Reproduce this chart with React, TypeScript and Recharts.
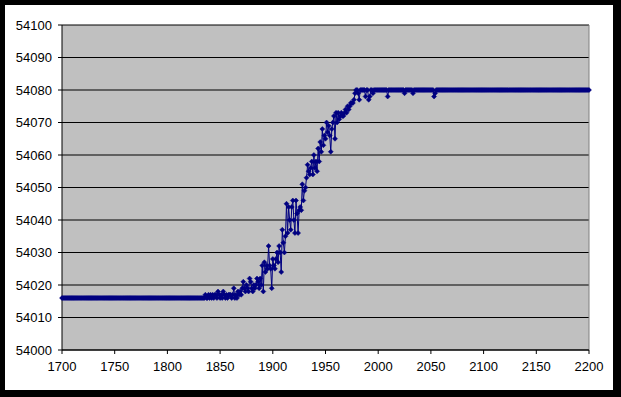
import { LineChart, Line, XAxis, YAxis, CartesianGrid, ReferenceLine } from "recharts";

const startYear = 1700;

const xTicks = [1700, 1750, 1800, 1850, 1900, 1950, 2000, 2050, 2100, 2150, 2200];
const yTicks = [54000, 54010, 54020, 54030, 54040, 54050, 54060, 54070, 54080, 54090, 54100];

// 1700 - 1834
const earlyValues = [
  54016, 54016, 54016, 54016, 54016, 54016, 54016, 54016, 54016, 54016, 54016, 54016, 54016, 54016, 54016,
  54016, 54016, 54016, 54016, 54016, 54016, 54016, 54016, 54016, 54016, 54016, 54016, 54016, 54016, 54016,
  54016, 54016, 54016, 54016, 54016, 54016, 54016, 54016, 54016, 54016, 54016, 54016, 54016, 54016, 54016,
  54016, 54016, 54016, 54016, 54016, 54016, 54016, 54016, 54016, 54016, 54016, 54016, 54016, 54016, 54016,
  54016, 54016, 54016, 54016, 54016, 54016, 54016, 54016, 54016, 54016, 54016, 54016, 54016, 54016, 54016,
  54016, 54016, 54016, 54016, 54016, 54016, 54016, 54016, 54016, 54016, 54016, 54016, 54016, 54016, 54016,
  54016, 54016, 54016, 54016, 54016, 54016, 54016, 54016, 54016, 54016, 54016, 54016, 54016, 54016, 54016,
  54016, 54016, 54016, 54016, 54016, 54016, 54016, 54016, 54016, 54016, 54016, 54016, 54016, 54016, 54016,
  54016, 54016, 54016, 54016, 54016, 54016, 54016, 54016, 54016, 54016, 54016, 54016, 54016, 54016, 54016,
];

// 1835 - 1985
const riseValues = [
  54016, 54017, 54016, 54016, 54017, 54016, 54017, 54016, 54017, 54016,
  54017, 54017, 54016, 54018, 54017, 54016, 54017, 54016, 54018, 54017,
  54016, 54017, 54016, 54017, 54017, 54017, 54016, 54017, 54019, 54016,
  54017, 54016, 54018, 54017, 54018, 54017, 54019, 54021, 54019, 54018,
  54020, 54019, 54018, 54022, 54021, 54019, 54018, 54020, 54019, 54020,
  54022, 54021, 54019, 54022, 54020, 54026, 54018, 54027, 54024, 54026,
  54025, 54032, 54026, 54025, 54019, 54028, 54026, 54025, 54028, 54030,
  54027, 54032, 54030, 54024, 54037, 54033, 54030, 54035, 54045, 54036,
  54044, 54040, 54037, 54044, 54046, 54040, 54036, 54046, 54042, 54036,
  54043, 54044, 54043, 54051, 54046, 54049, 54050, 54053, 54057, 54055,
  54054, 54056, 54058, 54054, 54060, 54056, 54058, 54055, 54062, 54058,
  54064, 54061, 54068, 54063, 54066, 54065, 54070, 54067, 54069, 54066,
  54061, 54068, 54070, 54072, 54065, 54073, 54070, 54073, 54071, 54072,
  54073, 54072, 54072, 54073, 54074, 54073, 54075, 54074, 54075, 54076,
  54076, 54076, 54077, 54079, 54080, 54080, 54079, 54077, 54080, 54080, 54080,
];

// 1986 - 2200
const lateValues = [
  54080, 54080, 54078, 54080, 54080, 54077, 54078, 54080, 54080, 54079,
  54080, 54080, 54080, 54080, 54080, 54080, 54080, 54080, 54080, 54080,
  54080, 54080, 54080, 54078, 54080, 54080, 54080, 54080, 54080, 54080,
  54080, 54080, 54080, 54080, 54080, 54080, 54080, 54080, 54080, 54079,
  54080, 54080, 54080, 54080, 54080, 54080, 54080, 54079, 54080, 54080,
  54080, 54080, 54080, 54080, 54080, 54080, 54080, 54080, 54080, 54080,
  54080, 54080, 54080, 54080, 54080, 54080, 54080, 54078, 54079, 54080,
  54080, 54080, 54080, 54080, 54080, 54080, 54080, 54080, 54080, 54080,
  54080, 54080, 54080, 54080, 54080, 54080, 54080, 54080, 54080, 54080,
  54080, 54080, 54080, 54080, 54080, 54080, 54080, 54080, 54080, 54080,
  54080, 54080, 54080, 54080, 54080, 54080, 54080, 54080, 54080, 54080,
  54080, 54080, 54080, 54080, 54080, 54080, 54080, 54080, 54080, 54080,
  54080, 54080, 54080, 54080, 54080, 54080, 54080, 54080, 54080, 54080,
  54080, 54080, 54080, 54080, 54080, 54080, 54080, 54080, 54080, 54080,
  54080, 54080, 54080, 54080, 54080, 54080, 54080, 54080, 54080, 54080,
  54080, 54080, 54080, 54080, 54080, 54080, 54080, 54080, 54080, 54080,
  54080, 54080, 54080, 54080, 54080, 54080, 54080, 54080, 54080, 54080,
  54080, 54080, 54080, 54080, 54080, 54080, 54080, 54080, 54080, 54080,
  54080, 54080, 54080, 54080, 54080, 54080, 54080, 54080, 54080, 54080,
  54080, 54080, 54080, 54080, 54080, 54080, 54080, 54080, 54080, 54080,
  54080, 54080, 54080, 54080, 54080, 54080, 54080, 54080, 54080, 54080,
  54080, 54080, 54080, 54080, 54080,
];

const values = [...earlyValues, ...riseValues, ...lateValues];
const data = values.map((v, i) => ({ year: startYear + i, value: v }));

const NAVY = "#000080";
const font = { fontFamily: "'Liberation Sans', Arial, sans-serif", fontSize: 13, fill: "#000" };

function Diamond(props: any) {
  const { cx, cy, index } = props;
  if (cx == null || cy == null) return <g key={`d-${index}`} />;
  const r = 2.5;
  return (
    <path
      key={`d-${index}`}
      d={`M${cx},${cy - r}L${cx + r},${cy}L${cx},${cy + r}L${cx - r},${cy}Z`}
      fill={NAVY}
      stroke={NAVY}
      strokeWidth={0.5}
    />
  );
}

export default function App() {
  return (
    <div style={{ position: "fixed", left: 0, top: 0, width: 621, height: 397, background: "#000" }}>
      <div style={{ position: "absolute", left: 5, top: 5, width: 608, height: 385, background: "#fff" }} />
      <div style={{ position: "absolute", left: 0, top: 0 }}>
        <LineChart width={621} height={397} data={data} margin={{ top: 25, right: 32, bottom: 17, left: 0 }}>
          <CartesianGrid vertical={false} horizontal stroke="#000" strokeOpacity={1} fill="#C0C0C0" fillOpacity={1} />
          <XAxis
            type="number"
            dataKey="year"
            domain={[1700, 2200]}
            ticks={xTicks}
            height={30}
            tickSize={4}
            tickMargin={8}
            stroke="#000"
            tick={font}
            axisLine={{ stroke: "#000" }}
            tickLine={{ stroke: "#000" }}
            interval={0}
          />
          <YAxis
            type="number"
            domain={[54000, 54100]}
            ticks={yTicks}
            width={62}
            tickSize={4}
            tickMargin={6}
            stroke="#000"
            tick={font}
            axisLine={{ stroke: "#000" }}
            tickLine={{ stroke: "#000" }}
            interval={0}
          />
          <ReferenceLine x={2200} stroke="#808080" />
          <Line
            type="linear"
            dataKey="value"
            stroke={NAVY}
            strokeWidth={1}
            dot={Diamond}
            activeDot={false}
            isAnimationActive={false}
          />
        </LineChart>
      </div>
    </div>
  );
}
